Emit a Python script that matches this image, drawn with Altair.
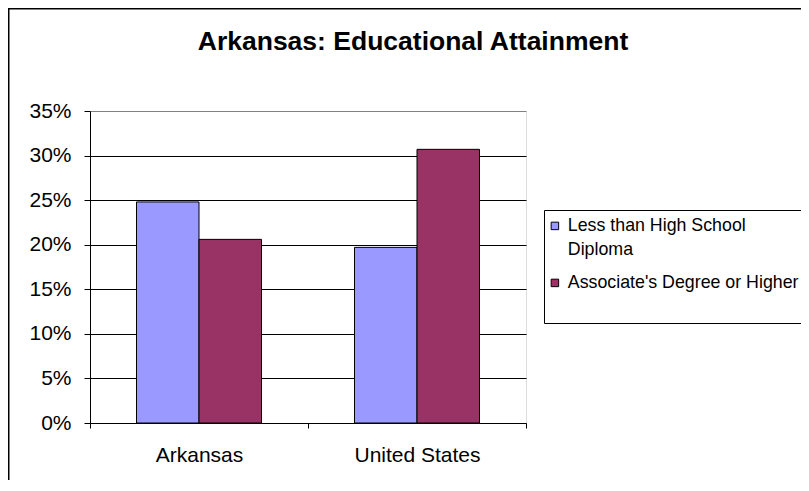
import altair as alt
import pandas as pd

# ---- data ----
regions = ["Arkansas", "United States"]
series_names = ["Less than High School Diploma", "Associate's Degree or Higher"]
less_than_hs = [0.248, 0.197]
associates_plus = [0.206, 0.307]
y_ticks = [0, 0.05, 0.10, 0.15, 0.20, 0.25, 0.30, 0.35]
series_colors = ["#9999FF", "#993366"]
title_text = "Arkansas: Educational Attainment"

rows = []
for i, r in enumerate(regions):
    rows.append({"region": r, "series": series_names[0], "value": less_than_hs[i]})
    rows.append({"region": r, "series": series_names[1], "value": associates_plus[i]})
df = pd.DataFrame(rows)

W, H = 436, 312
PAD_L, PAD_T = 82, 103
CANVAS_W, CANVAS_H = 793, 472
FONT = "Liberation Sans"

bars = alt.Chart(df).mark_bar(stroke="black", strokeWidth=1, opacity=1).encode(
    x=alt.X(
        "region:N", sort=regions, title=None,
        scale=alt.Scale(paddingInner=0, paddingOuter=0),
        axis=alt.Axis(labelAngle=0, tickBand="extent", tickSize=5, tickColor="black",
                      domainColor="black", labelFontSize=21, labelPadding=16,
                      grid=False, labelColor="black", labelFont=FONT),
    ),
    xOffset=alt.XOffset("series:N", sort=series_names,
                        scale=alt.Scale(paddingInner=0, paddingOuter=0.744)),
    y=alt.Y(
        "value:Q", title=None,
        scale=alt.Scale(domain=[0, 0.35], nice=False),
        axis=alt.Axis(values=y_ticks, format=".0%", tickSize=6, tickColor="black",
                      domainColor="black", labelFontSize=21, labelPadding=13,
                      labelColor="black", labelFont=FONT, grid=True,
                      gridColor={"condition": {"test": "datum.value >= 0.349", "value": "#808080"},
                                 "value": "black"},
                      gridWidth=1, gridOpacity=1),
    ),
    color=alt.Color(
        "series:N", sort=series_names,
        scale=alt.Scale(domain=series_names, range=series_colors),
        legend=alt.Legend(
            title=None, orient="none", legendX=454, legendY=99,
            symbolType="square", symbolSize=56, symbolStrokeColor="black",
            symbolStrokeWidth=1, symbolOpacity=1, symbolOffset=-5,
            labelFontSize=17.8, labelFont=FONT, labelColor="black",
            labelOffset=4, labelLimit=400,
            labelExpr="datum.label == 'Less than High School Diploma' ? ['Less than High School', 'Diploma'] : [datum.label, '']",
            padding=7, strokeColor="black", fillColor="white", rowPadding=14,
        ),
    ),
)

frame = alt.Chart(pd.DataFrame({"k": [0]})).mark_rect(
    fillOpacity=0, stroke="black", strokeWidth=1.5
).encode(
    x=alt.value(-PAD_L + 0.75), x2=alt.value(2000),
    y=alt.value(-PAD_T + 0.75), y2=alt.value(2000),
)

chart = alt.layer(frame, bars).properties(
    width=W, height=H,
    autosize=alt.AutoSizeParams(type="none"),
    padding={"left": PAD_L, "top": PAD_T, "right": CANVAS_W - PAD_L - W, "bottom": CANVAS_H - PAD_T - H},
    background="white",
    title=alt.TitleParams(title_text, fontSize=26.5, fontWeight="bold", font=FONT, color="black",
                          anchor="middle", frame="group", dx=105, offset=-68, baseline="alphabetic"),
).configure_view(
    fill="#C0C0C0", stroke="#808080", strokeWidth=1
).configure(
    style={"guide-label": {"lineHeight": 24}}
)

chart.save("out.html", embed_options={"renderer": "svg", "actions": False})
